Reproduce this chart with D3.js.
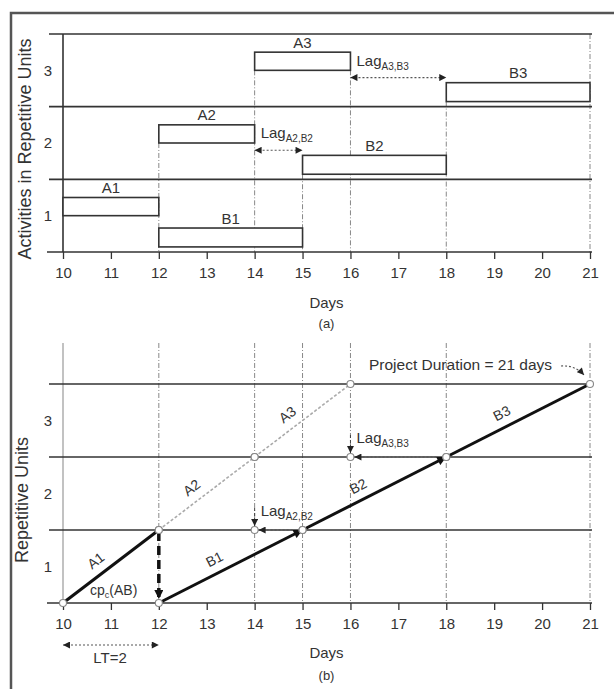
<!DOCTYPE html>
<html><head><meta charset="utf-8">
<script src="https://cdn.jsdelivr.net/npm/d3@7"></script>
<style>
body{margin:0;background:#fff}
text{font-family:"Liberation Sans",Arial,sans-serif;fill:#333}
</style>
</head><body>
<svg id="c" width="614" height="689"></svg>
<script>
// ---------- data ----------
const activities = ["A1","A2","A3","B1","B2","B3"];
const startDay   = [10,12,14,12,15,18];
const finishDay  = [12,14,16,15,18,21];
const unitNo     = [1,2,3,1,2,3];
const critical   = [true,false,false,true,true,true];
const dayTicks   = [10,11,12,13,14,15,16,17,18,19,20,21];
const unitTickLabels = ["1","2","3"];
const gridDaysB  = [12,14,15,16,18,21];
const lagNames   = ["A2,B2","A3,B3"];
const lagStart   = [14,16];
const lagEnd     = [15,18];
const lagUnit    = [1,2];
const projectText = "Project Duration = 21 days";
const leadText = "LT=2";
const leadStart = 10, leadEnd = 12;

const svg = d3.select("#c");
const x  = d3.scaleLinear().domain([10,21]).range([63,590]);
const ya = d3.scaleLinear().domain([0,3]).range([252,34]);
const yb = d3.scaleLinear().domain([0,3]).range([603,384]);

const defs = svg.append("defs");
defs.append("marker").attr("id","arr").attr("viewBox","0 0 10 10")
  .attr("refX",10).attr("refY",5).attr("markerWidth",8).attr("markerHeight",7)
  .attr("markerUnits","userSpaceOnUse").attr("orient","auto-start-reverse")
  .append("path").attr("d","M0,0L10,5L0,10z").attr("fill","#222");
defs.append("marker").attr("id","arrBig").attr("viewBox","0 0 10 10")
  .attr("refX",10).attr("refY",5).attr("markerWidth",11).attr("markerHeight",9)
  .attr("markerUnits","userSpaceOnUse").attr("orient","auto-start-reverse")
  .append("path").attr("d","M0,0L10,5L0,10z").attr("fill","#111");

// frame
svg.append("rect").attr("x",11).attr("y",13).attr("width",720).attr("height",720)
  .attr("fill","none").attr("stroke","#555").attr("stroke-width",2.5);

const dark = "#333";
const tickFont = 15;

// =============== Panel (a) =================
const ga = svg.append("g");
const barLow  = i => unitNo[i] - 1 + (activities[i][0]==="A" ? 0.5 : 0.07);
const barHigh = i => unitNo[i] - 1 + (activities[i][0]==="A" ? 0.75 : 0.33);
const gridA = [12,14,15,16,18].map(d => {
  let top = 0;
  activities.forEach((a,i)=>{ if(startDay[i]===d||finishDay[i]===d) top=Math.max(top,barLow(i)); });
  return {d, top};
});
gridA.push({d:21, top:3});
ga.selectAll(".vg").data(gridA).join("line")
  .attr("x1",g=>x(g.d)).attr("x2",g=>x(g.d))
  .attr("y1",g=>ya(g.top)).attr("y2",ya(0))
  .attr("stroke","#888").attr("stroke-width",1).attr("stroke-dasharray","5,2,1,2");

ga.selectAll(".hl").data([1,2,3]).join("line")
  .attr("x1",49).attr("x2",592).attr("y1",d=>ya(d)).attr("y2",d=>ya(d))
  .attr("stroke",dark).attr("stroke-width",1.6);
ga.append("line").attr("x1",47).attr("x2",592).attr("y1",ya(0)).attr("y2",ya(0))
  .attr("stroke",dark).attr("stroke-width",1.6);
ga.append("line").attr("x1",x(10)).attr("x2",x(10)).attr("y1",ya(3)).attr("y2",ya(0))
  .attr("stroke",dark).attr("stroke-width",1.6);

const axA = ga.append("g").attr("transform",`translate(0,${ya(0)})`)
  .call(d3.axisBottom(x).tickValues(dayTicks).tickSize(7).tickPadding(8).tickFormat(d3.format("d")));
axA.select(".domain").remove();
axA.selectAll("line").attr("stroke",dark).attr("stroke-width",1.3);
axA.selectAll("text").attr("font-size",tickFont).attr("font-family","Liberation Sans, Arial").attr("fill","#333");

const ayA = ga.append("g").attr("transform",`translate(${x(10)},0)`)
  .call(d3.axisLeft(ya).tickValues([0.5,1.5,2.5]).tickSize(0).tickPadding(11).tickFormat((d,i)=>unitTickLabels[i]));
ayA.select(".domain").remove();
ayA.selectAll("text").attr("font-size",tickFont).attr("font-family","Liberation Sans, Arial").attr("fill","#333");

ga.selectAll(".bar").data(activities).join("rect")
  .attr("x",(a,i)=>x(startDay[i])).attr("width",(a,i)=>x(finishDay[i])-x(startDay[i]))
  .attr("y",(a,i)=>ya(barHigh(i))).attr("height",(a,i)=>ya(barLow(i))-ya(barHigh(i)))
  .attr("fill","#fff").attr("stroke",dark).attr("stroke-width",1.6);
ga.selectAll(".bl").data(activities).join("text")
  .attr("x",(a,i)=>x((startDay[i]+finishDay[i])/2))
  .attr("y",(a,i)=>ya(barHigh(i))-10)
  .attr("text-anchor","middle").attr("dominant-baseline","central")
  .attr("font-size",15).text(a=>a);

lagNames.forEach((n,k)=>{
  const yy = ya(lagUnit[k]+0.4);
  ga.append("line").attr("x1",x(lagStart[k])).attr("x2",x(lagEnd[k])).attr("y1",yy).attr("y2",yy)
    .attr("stroke","#555").attr("stroke-width",1.2).attr("stroke-dasharray","2,2")
    .attr("marker-start","url(#arr)").attr("marker-end","url(#arr)");
  const t = ga.append("text").attr("x",x(lagStart[k])+6).attr("y",yy-12).attr("font-size",15);
  t.append("tspan").text("Lag");
  t.append("tspan").attr("dy",4).attr("font-size",10).text(n);
});

ga.append("text").attr("x",(x(10)+x(21))/2).attr("y",302).attr("text-anchor","middle")
  .attr("dominant-baseline","central").attr("font-size",15).text("Days");
ga.append("text").attr("x",(x(10)+x(21))/2).attr("y",323).attr("text-anchor","middle")
  .attr("dominant-baseline","central").attr("font-size",13).text("(a)");
ga.append("text").attr("transform",`translate(25,149) rotate(-90)`).attr("text-anchor","middle")
  .attr("dominant-baseline","central").attr("font-size",18).text("Activities in Repetitive Units");

// =============== Panel (b) =================
const gb = svg.append("g");
const topB = 343;
gb.append("line").attr("x1",x(10)).attr("x2",x(10)).attr("y1",topB).attr("y2",yb(0))
  .attr("stroke","#999").attr("stroke-width",1.2);
gb.selectAll(".vg").data(gridDaysB).join("line")
  .attr("x1",d=>x(d)).attr("x2",d=>x(d)).attr("y1",topB).attr("y2",yb(0))
  .attr("stroke","#888").attr("stroke-width",1).attr("stroke-dasharray","5,2,1,2");
gb.selectAll(".hl").data([1,2,3]).join("line")
  .attr("x1",49).attr("x2",592).attr("y1",d=>yb(d)).attr("y2",d=>yb(d))
  .attr("stroke",dark).attr("stroke-width",1.6);
gb.append("line").attr("x1",47).attr("x2",592).attr("y1",yb(0)).attr("y2",yb(0))
  .attr("stroke",dark).attr("stroke-width",1.6);

const axB = gb.append("g").attr("transform",`translate(0,${yb(0)})`)
  .call(d3.axisBottom(x).tickValues(dayTicks).tickSize(7).tickPadding(8).tickFormat(d3.format("d")));
axB.select(".domain").remove();
axB.selectAll("line").attr("stroke",dark).attr("stroke-width",1.3);
axB.selectAll("text").attr("font-size",tickFont).attr("font-family","Liberation Sans, Arial").attr("fill","#333");

const ayB = gb.append("g").attr("transform",`translate(${x(10)},0)`)
  .call(d3.axisLeft(yb).tickValues([0.5,1.5,2.5]).tickSize(0).tickPadding(11).tickFormat((d,i)=>unitTickLabels[i]));
ayB.select(".domain").remove();
ayB.selectAll("text").attr("font-size",tickFont).attr("font-family","Liberation Sans, Arial").attr("fill","#333");

const segs = activities.map((a,i)=>({a, x1:x(startDay[i]), y1:yb(unitNo[i]-1), x2:x(finishDay[i]), y2:yb(unitNo[i]), crit:critical[i], i}));
gb.selectAll(".seg").data(segs).join("line")
  .attr("x1",s=>s.x1).attr("y1",s=>s.y1).attr("x2",s=>s.x2).attr("y2",s=>s.y2)
  .attr("stroke",s=>s.crit?"#111":"#aaa").attr("stroke-width",s=>s.crit?3:1.6)
  .attr("stroke-dasharray",s=>s.crit?null:"3,2")
  .attr("marker-end",s=>(s.a==="B1"||s.a==="B2")?"url(#arrBig)":null);

gb.selectAll(".sl").data(segs).join("text")
  .attr("transform",s=>{
    const f=0.43, px=s.x1+(s.x2-s.x1)*f, py=s.y1+(s.y2-s.y1)*f;
    const ang=Math.atan2(s.y2-s.y1,s.x2-s.x1);
    const ox=Math.sin(ang)*9, oy=-Math.cos(ang)*9;
    return `translate(${px+ox},${py+oy}) rotate(${ang*180/Math.PI})`;
  })
  .attr("text-anchor","middle").attr("font-size",14).text(s=>s.a);

gb.append("line").attr("x1",x(12)).attr("x2",x(12)).attr("y1",yb(1)+2).attr("y2",yb(0)-4)
  .attr("stroke","#111").attr("stroke-width",3.5).attr("stroke-dasharray","9,5")
  .attr("marker-end","url(#arrBig)");
const cp = gb.append("text").attr("x",90).attr("y",595).attr("font-size",14);
cp.append("tspan").text("cp");
cp.append("tspan").attr("dy",3).attr("font-size",9).text("c");
cp.append("tspan").attr("dy",-3).text("(AB)");

lagNames.forEach((n,k)=>{
  const yy = yb(lagUnit[k]), xs = x(lagStart[k]), xe = x(lagEnd[k]);
  gb.append("line").attr("x1",xs).attr("x2",xs).attr("y1",yy-22).attr("y2",yy-4)
    .attr("stroke","#444").attr("stroke-width",1).attr("stroke-dasharray","3,2")
    .attr("marker-end","url(#arr)");
  gb.append("line").attr("x1",xs+4).attr("x2",xe-8).attr("y1",yy).attr("y2",yy)
    .attr("stroke","#555").attr("stroke-width",1.2).attr("stroke-dasharray","2,2")
    .attr("marker-start","url(#arr)");
  const t = gb.append("text").attr("x",xs+6).attr("y",yy-14).attr("font-size",15);
  t.append("tspan").text("Lag");
  t.append("tspan").attr("dy",4).attr("font-size",10).text(n);
});

const nodes = [];
segs.forEach(s=>{ nodes.push([s.x1,s.y1]); nodes.push([s.x2,s.y2]); });
lagNames.forEach((n,k)=>nodes.push([x(lagStart[k]), yb(lagUnit[k])]));
gb.selectAll(".nd").data(nodes).join("circle")
  .attr("cx",d=>d[0]).attr("cy",d=>d[1]).attr("r",3.5)
  .attr("fill","#fff").attr("stroke","#888").attr("stroke-width",1.1);

gb.append("text").attr("x",369).attr("y",364).attr("dominant-baseline","central")
  .attr("font-size",15.5).text(projectText);
gb.append("path").attr("d",`M561,366 Q575,365 ${x(21)-6},${yb(3)-9}`)
  .attr("fill","none").attr("stroke","#555").attr("stroke-width",1.1).attr("stroke-dasharray","2,2")
  .attr("marker-end","url(#arr)");

gb.append("line").attr("x1",x(leadStart)).attr("x2",x(leadEnd)).attr("y1",645).attr("y2",645)
  .attr("stroke","#555").attr("stroke-width",1.2).attr("stroke-dasharray","2,2")
  .attr("marker-start","url(#arr)").attr("marker-end","url(#arr)");
gb.append("text").attr("x",110).attr("y",657).attr("text-anchor","middle")
  .attr("dominant-baseline","central").attr("font-size",15).text(leadText);

gb.append("text").attr("x",(x(10)+x(21))/2).attr("y",652).attr("text-anchor","middle")
  .attr("dominant-baseline","central").attr("font-size",15).text("Days");
gb.append("text").attr("x",(x(10)+x(21))/2).attr("y",675).attr("text-anchor","middle")
  .attr("dominant-baseline","central").attr("font-size",13).text("(b)");
gb.append("text").attr("transform",`translate(22,500) rotate(-90)`).attr("text-anchor","middle")
  .attr("dominant-baseline","central").attr("font-size",18).text("Repetitive Units");
</script>
</body></html>
